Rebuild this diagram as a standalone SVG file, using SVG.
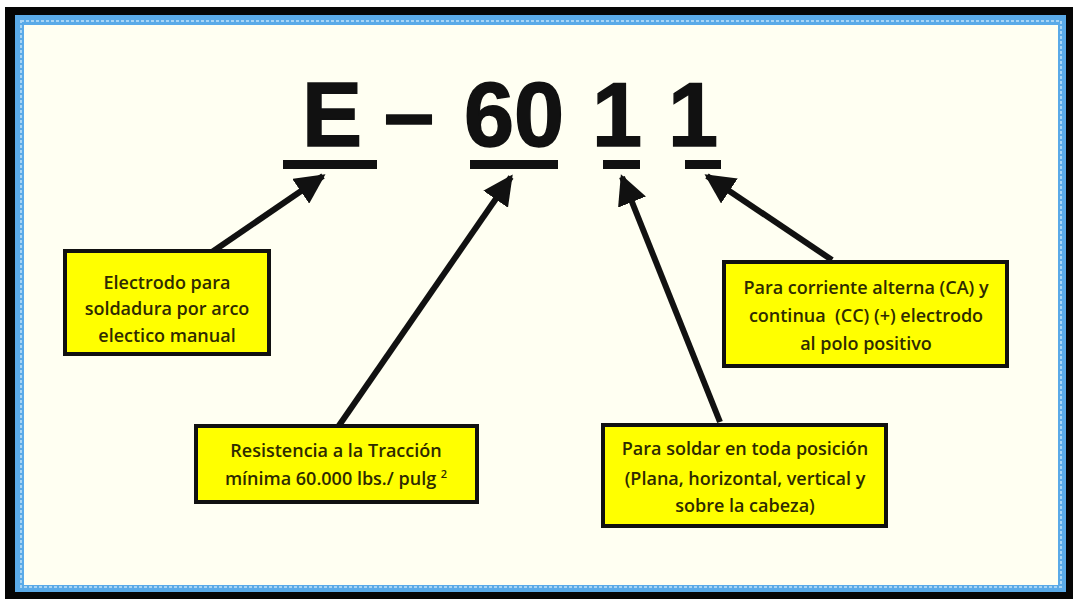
<svg xmlns="http://www.w3.org/2000/svg" width="1073" height="599" viewBox="0 0 1073 599">
<style>
.box{fill:#ffff00;stroke:#111;stroke-width:4}
.t{font-family:"Open Sans","Liberation Sans",sans-serif;font-weight:600;font-size:18px;fill:#2e2a00;text-anchor:middle}
.big{font-family:"Liberation Sans",Arial,sans-serif;font-weight:bold;font-size:90px;fill:#111;stroke:#111;stroke-width:1.5}
.ul{fill:#111}
.arr{stroke:#111;stroke-width:6;fill:none;marker-end:url(#ah)}
</style>
<defs>
<marker id="ah" viewBox="0 0 10 10" refX="9" refY="5" markerWidth="5" markerHeight="5" markerUnits="strokeWidth" orient="auto">
<path d="M0,0 L10,5 L0,10 z" fill="#111"/>
</marker>
</defs>
<rect x="0" y="0" width="1073" height="599" fill="#ffffff"/>
<rect x="5" y="7" width="1068" height="592" fill="#050505"/>
<rect x="15" y="15" width="1051" height="577" fill="#5aaae8"/>
<rect x="21" y="21" width="1040" height="566" fill="none" stroke="#a8d4f4" stroke-width="2" stroke-dasharray="3 2"/>
<rect x="24" y="25" width="1034" height="560" fill="#fffff2"/>

<g id="title">
<text class="big" x="302" y="146">E</text>
<text class="big" x="384" y="144" stroke-width="6">–</text>
<text class="big" x="464" y="146">60</text>
<text class="big" x="592" y="146">1</text>
<text class="big" x="668" y="146">1</text>
<rect class="ul" x="283" y="160" width="94" height="9"/>
<rect class="ul" x="470" y="160" width="88" height="9"/>
<rect class="ul" x="603" y="160" width="37" height="9"/>
<rect class="ul" x="685" y="160" width="36" height="9"/>
</g>

<g id="connectors">
<line class="arr" x1="212" y1="252" x2="323" y2="176"/>
<line class="arr" x1="338" y1="427" x2="511" y2="177"/>
<line class="arr" x1="720" y1="422" x2="622" y2="177"/>
<line class="arr" x1="832" y1="260" x2="707" y2="176"/>
</g>

<g id="box1">
<rect class="box" x="65" y="251" width="204" height="103"/>
<text class="t" x="167" y="289">Electrodo para</text>
<text class="t" x="167" y="315">soldadura por arco</text>
<text class="t" x="167" y="342">electico manual</text>
</g>

<g id="box2">
<rect class="box" x="196" y="426" width="281" height="76"/>
<text class="t" x="336" y="457">Resistencia a la Tracción</text>
<text class="t" x="336" y="485">mínima 60.000 lbs./ pulg <tspan font-size="11" dy="-7">2</tspan></text>
</g>

<g id="box3">
<rect class="box" x="603" y="425" width="283" height="101"/>
<text class="t" x="745" y="455">Para soldar en toda posición</text>
<text class="t" x="745" y="485">(Plana, horizontal, vertical y</text>
<text class="t" x="745" y="512">sobre la cabeza)</text>
</g>

<g id="box4">
<rect class="box" x="724" y="262" width="283" height="104"/>
<text class="t" x="866" y="294">Para corriente alterna (CA) y</text>
<text class="t" x="866" y="322" xml:space="preserve">continua  (CC) (+) electrodo</text>
<text class="t" x="866" y="350">al polo positivo</text>
</g>
</svg>
